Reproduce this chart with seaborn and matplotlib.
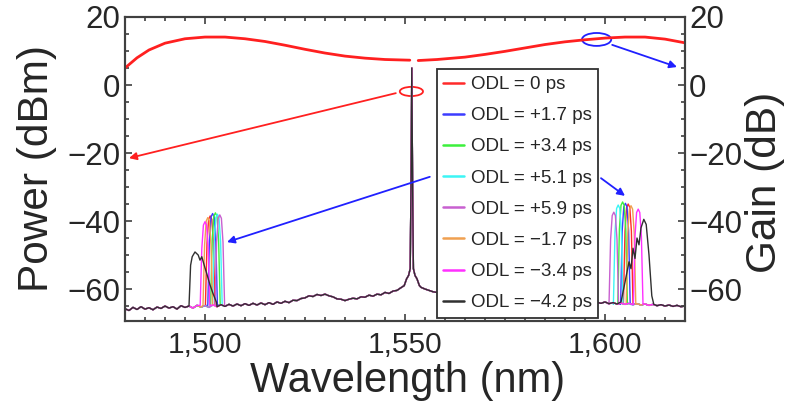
import numpy as np
import pandas as pd
import seaborn as sns
import matplotlib.pyplot as plt
from matplotlib.patches import Ellipse
from matplotlib.ticker import MultipleLocator, FuncFormatter

# noise floor of the spectrum, 1 nm steps from 1480 to 1620 nm
base_wl = list(range(1480, 1621))
base_db = [-65.8, -66.3, -65.4, -66.0, -65.2, -65.9, -65.5, -66.1, -65.3, -65.7,
           -65.0, -65.6, -65.2, -65.9, -64.9, -65.4, -65.0, -65.6, -64.8, -65.3,
           -64.9, -65.4, -64.7, -65.2, -64.6, -65.1, -64.5, -65.0, -64.4, -64.9,
           -64.3, -64.8, -64.2, -64.7, -64.1, -64.6, -64.0, -64.5, -63.8, -64.2,
           -63.6, -64.0, -63.3, -63.4, -62.8, -62.6, -62.0, -62.2, -61.6, -61.9,
           -61.5, -62.0, -62.3, -62.9, -63.0, -63.4, -63.0, -62.7, -62.9, -62.3,
           -62.4, -61.8, -62.1, -61.5, -61.7, -61.0, -61.3, -60.6, -60.4, -59.6,
           -58.5, -57.0, -57.0, -58.2, -59.5, -60.0, -60.4, -60.8, -61.0, -61.3,
           -61.2, -61.6, -61.5, -61.9, -62.0, -62.3, -62.1, -62.5, -62.4, -62.7,
           -62.6, -62.9, -62.7, -63.0, -62.9, -63.2, -63.0, -63.3, -63.1, -63.4,
           -63.2, -63.5, -63.3, -63.6, -63.4, -63.7, -63.5, -63.8, -63.5, -63.9,
           -63.6, -64.0, -63.7, -64.1, -63.8, -64.2, -63.9, -64.3, -63.9, -64.2,
           -63.8, -64.3, -64.0, -64.4, -64.1, -64.5, -64.2, -64.6, -64.3, -64.7,
           -64.4, -64.8, -64.5, -64.9, -64.6, -65.0, -64.7, -65.1, -64.8, -65.2,
           -65.0]

# pump line (same for every trace)
pump_wl = [1549.8, 1550.4, 1550.9, 1551.3, 1551.5, 1551.7, 1551.9, 1552.1, 1552.5, 1553.0, 1553.6]
pump_db = [-59.0, -57.0, -56.0, -54.0, -30.0, 5.0, -30.0, -54.0, -56.0, -57.0, -59.0]

labels = ['ODL = 0 ps', 'ODL = +1.7 ps', 'ODL = +3.4 ps', 'ODL = +5.1 ps',
          'ODL = +5.9 ps', 'ODL = \u22121.7 ps', 'ODL = \u22123.4 ps', 'ODL = \u22124.2 ps']
colors = ['#ff2a2a', '#3c3cff', '#3cf03c', '#3cf5f5', '#c860d0', '#f0a050', '#ff30ff', '#303030']

# idler (left) and signal (right) peaks per ODL setting
idler_wl = [
    [1500.1, 1500.5, 1500.9, 1501.3, 1501.7, 1502.1, 1502.5],
    [1500.7, 1501.1, 1501.5, 1501.9, 1502.3, 1502.7, 1503.1],
    [1501.4, 1501.8, 1502.2, 1502.6, 1503.0, 1503.4, 1503.8],
    [1501.9, 1502.3, 1502.7, 1503.1, 1503.5, 1503.9, 1504.3],
    [1502.5, 1502.9, 1503.3, 1503.7, 1504.1, 1504.5, 1504.9],
    [1499.5, 1499.9, 1500.3, 1500.7, 1501.1, 1501.5, 1501.9],
    [1498.8, 1499.2, 1499.6, 1500.0, 1500.4, 1500.8, 1501.2],
    [1496.0, 1496.4, 1496.8, 1497.5, 1498.3, 1498.75, 1499.2, 1500.0, 1500.4, 1501.25, 1502.0, 1502.9],
]
idler_db = [
    [-64.8, -46.5, -39.5, -38.5, -39.5, -46.5, -64.8],
    [-64.8, -45.8, -38.8, -37.8, -38.8, -45.8, -64.8],
    [-64.8, -45.6, -38.6, -37.6, -38.6, -45.6, -64.8],
    [-64.8, -46.0, -39.0, -38.0, -39.0, -46.0, -64.8],
    [-64.8, -46.2, -39.2, -38.2, -39.2, -46.2, -64.8],
    [-64.8, -47.0, -40.0, -39.0, -40.0, -47.0, -64.8],
    [-64.8, -48.2, -41.2, -40.2, -41.2, -48.2, -64.8],
    [-65.0, -53.0, -50.5, -49.1, -50.0, -51.5, -50.5, -53.8, -55.3, -58.8, -61.3, -64.0],
]
signal_wl = [
    [1604.6, 1605.0, 1605.4, 1605.8, 1606.2, 1606.6, 1607.0],
    [1603.9, 1604.3, 1604.7, 1605.1, 1605.5, 1605.9, 1606.3],
    [1603.2, 1603.6, 1604.0, 1604.4, 1604.8, 1605.2, 1605.6],
    [1602.1, 1602.5, 1602.9, 1603.3, 1603.7, 1604.1, 1604.5],
    [1601.0, 1601.4, 1601.8, 1602.2, 1602.6, 1603.0, 1603.4],
    [1605.3, 1605.7, 1606.1, 1606.5, 1606.9, 1607.3, 1607.7],
    [1607.1, 1607.5, 1607.9, 1608.3, 1608.7, 1609.1, 1609.5],
    [1604.0, 1605.0, 1606.0, 1606.5, 1607.0, 1607.5, 1608.0, 1608.5, 1609.0, 1609.7, 1610.3, 1611.0, 1611.7, 1612.2],
]
signal_db = [
    [-64.5, -43.0, -36.0, -35.0, -36.0, -43.0, -64.5],
    [-64.5, -42.8, -35.8, -34.8, -35.8, -42.8, -64.5],
    [-64.5, -42.4, -35.4, -34.4, -35.4, -42.4, -64.5],
    [-64.5, -43.3, -36.3, -35.3, -36.3, -43.3, -64.5],
    [-64.5, -45.4, -38.4, -37.4, -38.4, -45.4, -64.5],
    [-64.5, -43.5, -36.5, -35.5, -36.5, -43.5, -64.5],
    [-64.5, -44.5, -37.5, -36.5, -37.5, -44.5, -64.5],
    [-63.8, -58.0, -52.0, -54.0, -48.0, -51.0, -45.0, -47.0, -42.0, -39.5, -41.0, -50.0, -62.0, -64.5],
]

# gain curve (right axis), two pieces with a small gap at the pump
gain_wl_a = [1480, 1483, 1486, 1490, 1495, 1500, 1505, 1510, 1515, 1520, 1525, 1530, 1535, 1540, 1545, 1551.2]
gain_db_a = [5.0, 8.0, 10.3, 12.3, 13.6, 14.1, 14.1, 13.6, 12.8, 11.7, 10.5, 9.4, 8.5, 7.9, 7.5, 7.3]
gain_wl_b = [1553.3, 1558, 1565, 1570, 1575, 1580, 1585, 1590, 1595, 1600, 1605, 1610, 1615, 1620]
gain_db_b = [7.2, 7.5, 8.2, 9.0, 9.9, 10.9, 11.9, 12.7, 13.3, 13.8, 14.1, 14.1, 13.5, 12.4]


def build_trace(i):
    segs = [(pump_wl, pump_db), (idler_wl[i], idler_db[i]), (signal_wl[i], signal_db[i])]
    wl, db = [], []
    for w, d in zip(base_wl, base_db):
        if not any(min(sw) <= w <= max(sw) for sw, _ in segs):
            wl.append(w)
            db.append(d)
    for sw, sd in segs:
        wl += sw
        db += sd
    return pd.DataFrame({'wl': wl, 'db': db}).sort_values('wl')


sns.set_style('ticks')
plt.rcParams['font.family'] = ['Liberation Sans', 'DejaVu Sans']
plt.rcParams['axes.unicode_minus'] = True

fig = plt.figure(figsize=(7.94, 4.04), dpi=100)
ax = fig.add_axes([125 / 794, 1 - 321 / 404, 560 / 794, 304 / 404])

for i in range(len(labels)):
    sns.lineplot(data=build_trace(i), x='wl', y='db', color=colors[i], lw=1.0,
                 label=labels[i], estimator=None, sort=False, ax=ax)

ax.set_xlim(1480, 1620)
ax.set_ylim(-69.4, 20)

ax2 = ax.twinx()
ax2.set_ylim(-69.4, 20)
for gw, gd in [(gain_wl_a, gain_db_a), (gain_wl_b, gain_db_b)]:
    sns.lineplot(x=gw, y=gd, color='#ff2020', lw=2.0, estimator=None, sort=False, ax=ax2)

tick_font = 22.5
fmt = FuncFormatter(lambda v, p: f'{v:,.0f}')
ax.xaxis.set_major_locator(MultipleLocator(50))
ax.xaxis.set_minor_locator(MultipleLocator(5))
ax.xaxis.set_major_formatter(fmt)
for a in (ax, ax2):
    a.yaxis.set_major_locator(MultipleLocator(20))
    a.yaxis.set_minor_locator(MultipleLocator(5))
    for s in a.spines.values():
        s.set_color('#404040')
        s.set_linewidth(1.5)
ax.tick_params(which='both', direction='in', top=True, right=False, color='#404040', width=1.2)
ax.tick_params(which='major', length=5, labelsize=tick_font)
ax.tick_params(which='minor', length=3)
ax.tick_params(axis='x', which='major', labelsize=21.5, pad=7)
ax2.tick_params(which='both', direction='in', color='#404040', width=1.2)
ax2.tick_params(which='major', length=5, labelsize=tick_font, pad=3)
ax2.tick_params(which='minor', length=3)
ax2.set_xlim(1480, 1620)

ax.set_xlabel('Wavelength (nm)', fontsize=30)
ax.set_ylabel('Power (dBm)', fontsize=30.5)
ax2.set_ylabel('Gain (dB)', fontsize=30.5)
ax.xaxis.set_label_coords(0.505, -0.13)
ax.yaxis.set_label_coords(-0.122, 0.5)
ax2.yaxis.set_label_coords(1.108, 0.455)

# annotations
ax.add_patch(Ellipse((1551.6, -1.9), 5.8, 2.7, fill=False, ec='#ff2020', lw=1.3))
ax.annotate('', xy=(1481, -21.5), xytext=(1547.7, -2.4),
            arrowprops=dict(arrowstyle='-|>', color='#ff2020', lw=1.3, mutation_scale=11,
                            shrinkA=0, shrinkB=0))
ax.annotate('', xy=(1505.5, -46.2), xytext=(1556.2, -27.0),
            arrowprops=dict(arrowstyle='-|>', color='#2020ff', lw=1.3, mutation_scale=11,
                            shrinkA=0, shrinkB=0))
ax.annotate('', xy=(1605.0, -32.6), xytext=(1599.0, -27.4),
            arrowprops=dict(arrowstyle='-|>', color='#2020ff', lw=1.3, mutation_scale=11,
                            shrinkA=0, shrinkB=0))
ax2.add_patch(Ellipse((1597.9, 13.4), 7.3, 3.8, fill=False, ec='#2020ff', lw=1.3))
ax2.annotate('', xy=(1618.0, 5.3), xytext=(1601.8, 11.8),
             arrowprops=dict(arrowstyle='-|>', color='#2020ff', lw=1.3, mutation_scale=11,
                             shrinkA=0, shrinkB=0))

leg = ax.legend(loc='lower left', bbox_to_anchor=(0.557, 0.01), borderaxespad=0, fontsize=13.5,
                frameon=True, fancybox=False, edgecolor='#303030', framealpha=1,
                handlelength=1.1, labelspacing=0.75, borderpad=0.35, handletextpad=0.35)
leg.get_frame().set_linewidth(1.3)
for h in leg.get_lines():
    h.set_linewidth(1.8)
leg.set_zorder(5)

fig.savefig('out.png', dpi=100)
